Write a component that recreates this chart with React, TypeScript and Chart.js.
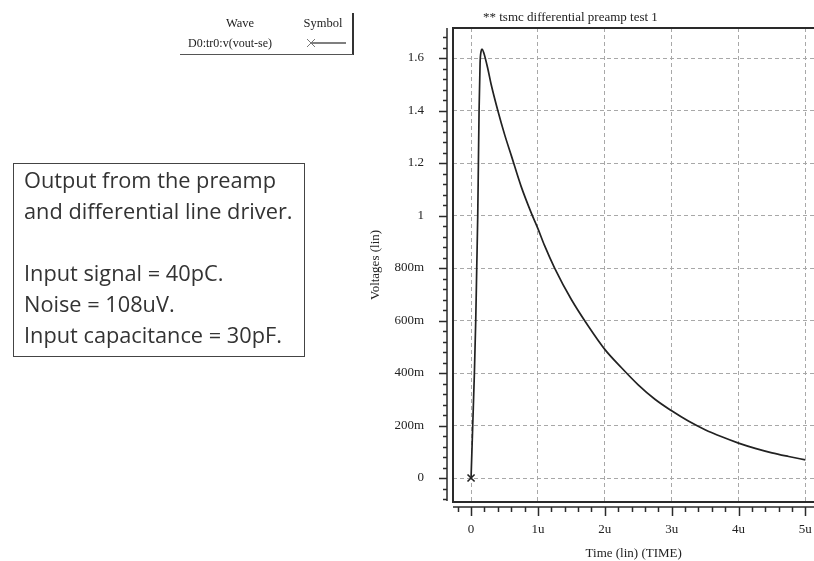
import React, { useEffect, useRef } from 'react';
import { Chart, registerables } from 'chart.js';

Chart.register(...registerables);

// Time in microseconds, output voltage in volts
const TIME_US = [0, 0.025, 0.05, 0.07, 0.085, 0.1, 0.11, 0.12, 0.135, 0.15, 0.165, 0.19, 0.25, 0.3, 0.4, 0.5, 0.6, 0.75, 0.9, 1.0, 1.1, 1.25, 1.5, 1.75, 2.0, 2.25, 2.5, 2.75, 3.0, 3.25, 3.5, 3.75, 4.0, 4.25, 4.5, 4.75, 5.0];
const VOUT = [0, 0.2, 0.4, 0.6, 0.8, 1.0, 1.2, 1.4, 1.58, 1.625, 1.634, 1.62, 1.56, 1.5, 1.4, 1.31, 1.23, 1.11, 1.01, 0.95, 0.885, 0.8, 0.68, 0.58, 0.49, 0.42, 0.355, 0.3, 0.256, 0.217, 0.184, 0.157, 0.133, 0.113, 0.096, 0.082, 0.069];

const X_TICKS = [0, 1, 2, 3, 4, 5];
const X_TICK_LABELS = ['0', '1u', '2u', '3u', '4u', '5u'];
const Y_TICKS = [0, 0.2, 0.4, 0.6, 0.8, 1.0, 1.2, 1.4, 1.6];
const Y_TICK_LABELS = ['0', '200m', '400m', '600m', '800m', '1', '1.2', '1.4', '1.6'];

const SERIES_NAME = 'D0:tr0:v(vout-se)';
const CHART_TITLE = '** tsmc differential preamp test 1';
const X_TITLE = 'Time (lin) (TIME)';
const Y_TITLE = 'Voltages (lin)';
const NOTE_LINES = ['Output from the preamp', 'and differential line driver.', '', 'Input signal = 40pC.', 'Noise = 108uV.', 'Input capacitance = 30pF.'];

const SERIF = "'Liberation Serif', 'Times New Roman', serif";
const INK = '#222';

const axisDecor = {
  id: 'axisDecor',
  afterDraw(chart: any) {
    const { ctx, chartArea, scales } = chart;
    const { left, top, right, bottom } = chartArea;
    const xs = scales.x;
    const ys = scales.y;
    ctx.save();
    ctx.strokeStyle = '#2a2a2a';
    // frame
    ctx.lineWidth = 2;
    ctx.beginPath();
    ctx.moveTo(right + 5, top);
    ctx.lineTo(left, top);
    ctx.lineTo(left, bottom);
    ctx.lineTo(right + 5, bottom);
    ctx.stroke();
    // left axis with ticks
    ctx.lineWidth = 1.5;
    const ax = left - 6;
    ctx.beginPath();
    ctx.moveTo(ax, top);
    ctx.lineTo(ax, bottom - 1);
    for (let k = -2; k <= 42; k++) {
      const v = k * 0.04;
      const py = Math.round(ys.getPixelForValue(v)) + 0.5;
      if (py < top - 0.5 || py > bottom) continue;
      const len = k % 5 === 0 ? 8 : 4;
      ctx.moveTo(ax - len, py);
      ctx.lineTo(ax, py);
    }
    ctx.stroke();
    // bottom axis with ticks
    const ay = bottom + 5;
    ctx.beginPath();
    ctx.moveTo(left, ay);
    ctx.lineTo(right, ay);
    for (let k = -1; k <= 25; k++) {
      const v = k * 0.2;
      const px = Math.round(xs.getPixelForValue(v)) + 0.5;
      if (px < left || px > right) continue;
      const len = k % 5 === 0 ? 9 : 5;
      ctx.moveTo(px, ay);
      ctx.lineTo(px, ay + len);
    }
    ctx.stroke();
    ctx.restore();
  },
};

function WaveChart() {
  const ref = useRef<HTMLCanvasElement | null>(null);
  useEffect(() => {
    const canvas = ref.current;
    if (!canvas) return;
    const font = { family: SERIF, size: 13 };
    const chart = new Chart(canvas, {
      type: 'line',
      data: {
        datasets: [
          {
            label: SERIES_NAME,
            data: TIME_US.map((t, i) => ({ x: t, y: VOUT[i] })),
            borderColor: INK,
            borderWidth: 1.7,
            pointStyle: 'crossRot',
            pointRadius: (c: any) => (c.dataIndex === 0 ? 5 : 0),
            pointHoverRadius: 0,
            pointBorderColor: INK,
            pointBorderWidth: 1.6,
            cubicInterpolationMode: 'monotone',
            fill: false,
          } as any,
        ],
      },
      options: {
        animation: false,
        responsive: false,
        devicePixelRatio: 1,
        layout: { padding: { left: 366, top: 28, right: 0, bottom: 0 } },
        plugins: {
          legend: { display: false },
          title: { display: false },
          tooltip: { enabled: false },
        },
        events: [],
        scales: {
          x: {
            type: 'linear',
            min: -0.27,
            max: 5.135,
            afterBuildTicks: (s: any) => {
              s.ticks = X_TICKS.map((v) => ({ value: v }));
            },
            afterFit: (s: any) => {
              s.height = 59;
              s.paddingLeft = 0;
              s.paddingRight = 0;
              s.paddingTop = 0;
              s.paddingBottom = 0;
            },
            ticks: {
              autoSkip: false,
              maxRotation: 0,
              padding: 20,
              color: INK,
              font,
              callback: (v: any) => X_TICK_LABELS[X_TICKS.indexOf(Number(v))] ?? '',
            },
            grid: { color: '#a8a8a8', lineWidth: 1, drawTicks: false },
            border: { display: false, dash: [4, 3] },
            title: { display: true, text: X_TITLE, color: INK, font, padding: { top: 0, bottom: 0 } },
          },
          y: {
            type: 'linear',
            min: -0.0914,
            max: 1.7143,
            afterBuildTicks: (s: any) => {
              s.ticks = Y_TICKS.map((v) => ({ value: v }));
            },
            afterFit: (s: any) => {
              s.width = 87;
              s.paddingLeft = 0;
              s.paddingRight = 0;
              s.paddingTop = 0;
              s.paddingBottom = 0;
            },
            ticks: {
              autoSkip: false,
              padding: 29,
              color: INK,
              font,
              callback: (v: any) => {
                const i = Y_TICKS.findIndex((t) => Math.abs(t - Number(v)) < 1e-6);
                return i >= 0 ? Y_TICK_LABELS[i] : '';
              },
            },
            grid: { color: '#a8a8a8', lineWidth: 1, drawTicks: false },
            border: { display: false, dash: [4, 3] },
            title: { display: true, text: Y_TITLE, color: INK, font, padding: { top: 2, bottom: 0 } },
          },
        },
      } as any,
      plugins: [axisDecor],
    });
    return () => chart.destroy();
  }, []);
  return <canvas ref={ref} width={821} height={561} style={{ position: 'absolute', left: 0, top: 0, width: 821, height: 561 }} />;
}

export default function App() {
  return (
    <div style={{ position: 'absolute', left: 0, top: 0, width: 814, height: 561, background: '#fff', overflow: 'hidden' }}>
      <WaveChart />
      {/* chart title */}
      <div style={{ position: 'absolute', left: 483, top: 9, fontFamily: SERIF, fontSize: 13, lineHeight: '16px', color: INK, whiteSpace: 'nowrap' }}>
        {CHART_TITLE}
      </div>
      {/* legend */}
      <div style={{ position: 'absolute', left: 352, top: 13, width: 1.5, height: 42, background: '#333' }} />
      <div style={{ position: 'absolute', left: 180, top: 54, width: 173, height: 1, background: '#555' }} />
      <div style={{ position: 'absolute', left: 200, top: 15, width: 80, textAlign: 'center', fontFamily: SERIF, fontSize: 12.5, lineHeight: '16px', color: INK }}>Wave</div>
      <div style={{ position: 'absolute', left: 295, top: 15, width: 56, textAlign: 'center', fontFamily: SERIF, fontSize: 12.5, lineHeight: '16px', color: INK }}>Symbol</div>
      <div style={{ position: 'absolute', left: 188, top: 35, fontFamily: SERIF, fontSize: 12, lineHeight: '16px', color: INK, whiteSpace: 'nowrap' }}>{SERIES_NAME}</div>
      <svg style={{ position: 'absolute', left: 300, top: 35 }} width={52} height={16}>
        <line x1={12} y1={8} x2={46} y2={8} stroke="#555" strokeWidth={1.3} />
        <line x1={7} y1={4} x2={15} y2={12} stroke="#777" strokeWidth={1} />
        <line x1={7} y1={12} x2={15} y2={4} stroke="#777" strokeWidth={1} />
      </svg>
      {/* note box */}
      <div
        style={{
          position: 'absolute',
          left: 13,
          top: 163,
          width: 292,
          height: 194,
          boxSizing: 'border-box',
          border: '1px solid #444',
          padding: '0 0 0 10px',
          fontFamily: "'Open Sans', 'Noto Sans', sans-serif",
          fontSize: 21.75,
          lineHeight: '31px',
          color: '#333',
          whiteSpace: 'nowrap',
        }}
      >
        {NOTE_LINES.map((l, i) => (
          <div key={i} style={{ height: 31 }}>{l || '\u00a0'}</div>
        ))}
      </div>
    </div>
  );
}
